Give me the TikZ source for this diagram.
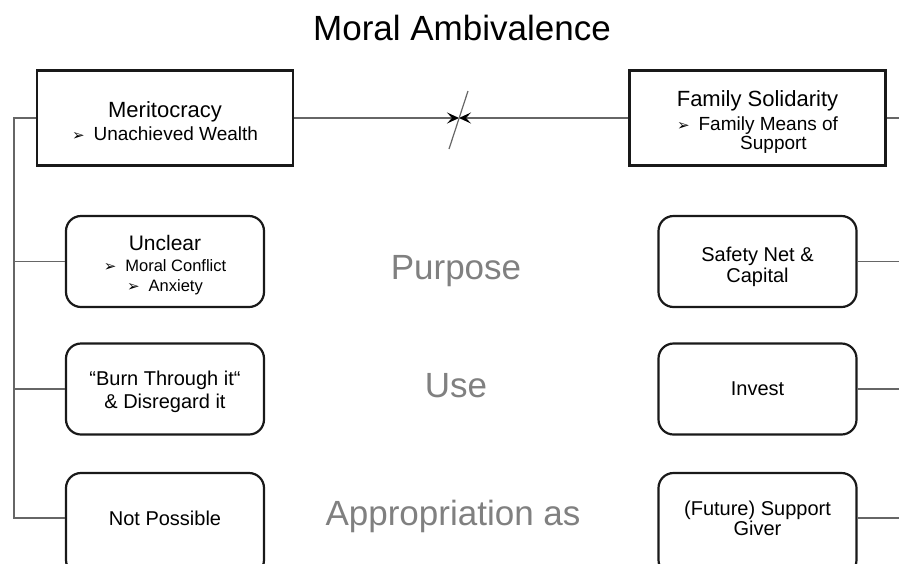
\documentclass[tikz,border=0pt]{standalone}
\usepackage{fontspec}
\setmainfont{Liberation Sans}
\newfontfamily\arrowfont{DejaVu Sans}
\usetikzlibrary{arrows.meta,positioning}
\newcommand{\bul}{{\arrowfont\fontsize{15}{16}\selectfont ➢}\hspace{9pt}}
\newcommand{\up}[1]{\rule{0pt}{#1}}
\newcommand{\down}[1]{\rule[-#1]{0pt}{#1}}

\begin{document}
\begin{tikzpicture}[x=1pt, y=-1pt,
    mainbox/.style={draw=black!90, line width=2.2pt, minimum width=256pt, minimum height=95pt, align=center, font=\fontsize{22}{23}\selectfont},
    roundbox/.style={draw=black!90, line width=2.2pt, rounded corners=15pt, minimum width=198pt, minimum height=91pt, align=center, font=\fontsize{20}{23}\selectfont},
    lowbox/.style={roundbox, minimum height=102pt},
    axislabel/.style={text=black!50, font=\fontsize{35}{40}\selectfont, anchor=base},
    link/.style={draw=black!60, line width=1.2pt},
    tip/.style={-{Stealth[black, length=12pt, width=11pt, inset=5pt]}}]
    \useasboundingbox (0,0) rectangle (899,563);
    \clip (0,0) rectangle (899,563);

    \node [font=\fontsize{35}{40}\selectfont, anchor=base] (title) at (462,40) {Moral Ambivalence};

    \node [mainbox] (merit) at (165,118) {\up{23pt}Meritocracy\\{\fontsize{19}{22}\selectfont\bul Unachieved Wealth}};
    \node [mainbox] (family) at (757.5,118) {\up{24pt}Family Solidarity\\[1pt]{\fontsize{19}{19}\selectfont\bul Family Means of}\\[-4pt]{\fontsize{19}{19}\selectfont\hspace{32pt}Support}};

    \node [roundbox] (unclear) at (165,261.5) {{\fontsize{21}{22}\selectfont\up{23pt}Unclear}\\[-2pt]{\fontsize{16.5}{20}\selectfont\bul Moral Conflict}\\[-3pt]{\fontsize{16.5}{20}\selectfont\bul Anxiety}};
    \node [roundbox] (burn) at (165,389) {\up{21pt}“Burn Through it“\\\& Disregard it};
    \node [lowbox] (notposs) at (165,524) {Not Possible\down{12pt}};

    \node [roundbox] (safety) at (757.5,261.5) {\up{25pt}Safety Net \&\\[-2pt]Capital};
    \node [roundbox] (invest) at (757.5,389) {Invest};
    \node [lowbox] (support) at (757.5,524) {(Future) Support\\[-3pt]Giver\down{12pt}};

    \node [axislabel] (purpose) at (456,279) {Purpose};
    \node [axislabel] (use) at (456,397) {Use};
    \node [axislabel] (approp) at (453,525) {Appropriation as};

    \coordinate (rail) at (14,0);
    \coordinate (edge) at (899,0);
    \coordinate (mid) at (459,118);
    \coordinate (npin) at ([yshift=6pt]notposs.west);
    \coordinate (spout) at ([yshift=6pt]support.east);

    % left rail
    \draw[link] (merit.west) -| (rail |- npin) -- (npin);
    \draw[link] (rail |- unclear.west) -- (unclear.west);
    \draw[link] (rail |- burn.west) -- (burn.west);

    % right side
    \draw[link] (family.east) -- (edge |- family.east);
    \draw[link] (safety.east) -- (edge |- safety.east);
    \draw[link] (invest.east) -- (edge |- invest.east);
    \draw[link] (spout) -- (edge |- spout);

    % the broken link
    \draw[link, tip] (merit.east) -- (mid);
    \draw[link, tip] (family.west) -- (mid);
    \draw[link] (mid) ++(9,-27) -- ++(-19,58);
\end{tikzpicture}
\end{document}
